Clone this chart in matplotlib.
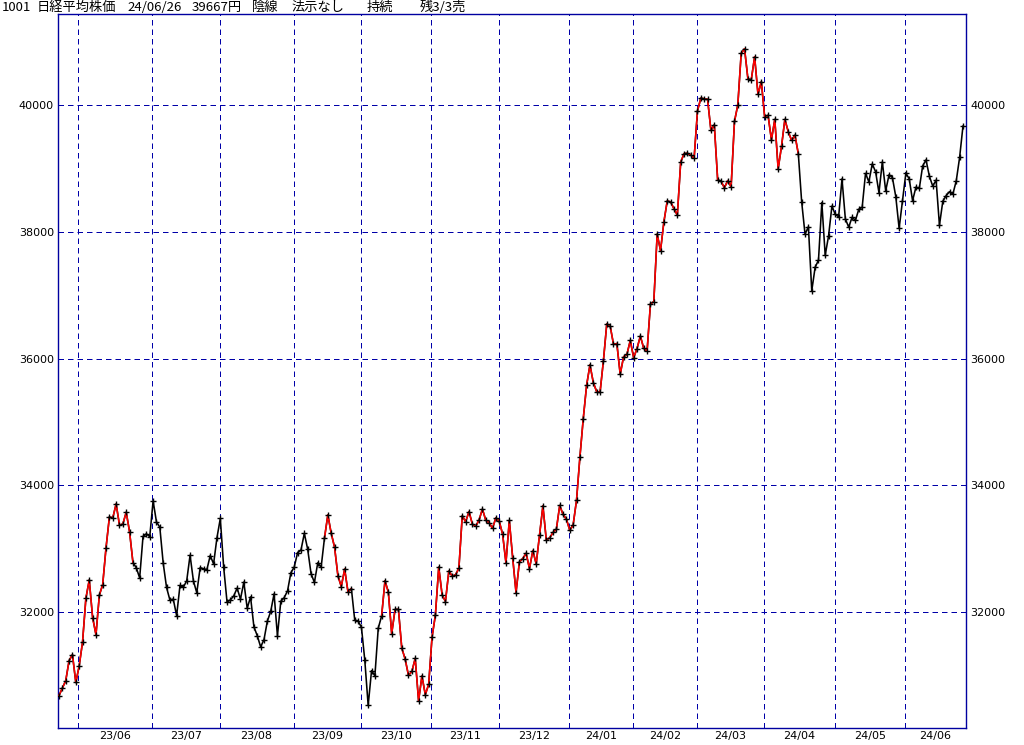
import matplotlib
matplotlib.use("Agg")
import matplotlib.pyplot as plt
from matplotlib import font_manager
import numpy as np

# ---- data (daily closes, trading-day index) ----
may23 = [30682, 30801, 30916, 31233, 31328, 30888]
jun23 = [31148, 31524, 32217, 32506, 31913, 31641, 32265, 32434, 33018, 33502, 33485,
         33706, 33370, 33388, 33575, 33265, 32781, 32698, 32538, 33193, 33234, 33189]
jul23 = [33753, 33422, 33338, 32773, 32388, 32189, 32203, 31943, 32419, 32391, 32493,
         32896, 32490, 32304, 32700, 32682, 32668, 32891, 32759, 33172]
aug23 = [33476, 32707, 32159, 32192, 32254, 32377, 32204, 32473, 32059, 32238, 31766,
         31626, 31450, 31565, 31856, 32010, 32287, 31624, 32169, 32226, 32333, 32619]
sep23 = [32710, 32939, 32976, 33241, 32991, 32606, 32467, 32776, 32706, 33168, 33533,
         33242, 33023, 32571, 32402, 32678, 32315, 32371, 31872, 31857]
oct23 = [31759, 31237, 30526, 31075, 30994, 31746, 31936, 32494, 32315, 31659, 32040,
         32042, 31430, 31259, 30999, 31062, 31269, 30601, 30991, 30696, 30858]
nov23 = [31601, 31950, 32708, 32272, 32166, 32646, 32568, 32585, 32695, 33519, 33424,
         33585, 33388, 33354, 33452, 33625, 33447, 33408, 33321, 33486]
dec23 = [33431, 33231, 32776, 33445, 32858, 32307, 32791, 32843, 32926, 32686, 32970,
         32759, 33219, 33675, 33140, 33169, 33255, 33305, 33681, 33539, 33464]
jan24 = [33288, 33377, 33763, 34441, 35049, 35577, 35901, 35619, 35477, 35466, 35963,
         36546, 36517, 36226, 36236, 35751, 36026, 36065, 36286]
feb24 = [36011, 36158, 36354, 36160, 36119, 36863, 36897, 37963, 37703, 38157, 38487,
         38470, 38363, 38262, 39098, 39233, 39239, 39208, 39166]
mar24 = [39910, 40109, 40097, 40090, 39598, 39688, 38820, 38797, 38695, 38807, 38707,
         39740, 40003, 40815, 40888, 40414, 40398, 40762, 40168, 40369]
apr24 = [39803, 39838, 39451, 39773, 38992, 39347, 39773, 39581, 39442, 39523, 39232,
         38471, 37962, 38079, 37068, 37438, 37552, 38460, 37628, 37934, 38405]
may24 = [38274, 38236, 38835, 38202, 38073, 38229, 38179, 38356, 38385, 38920, 38787,
         39070, 38947, 38617, 39103, 38646, 38900, 38855, 38556, 38054, 38488]
jun24 = [38923, 38837, 38490, 38704, 38683, 39038, 39134, 38877, 38720, 38815, 38102,
         38482, 38570, 38633, 38596, 38804, 39173, 39667]

months = [may23, jun23, jul23, aug23, sep23, oct23, nov23, dec23,
          jan24, feb24, mar24, apr24, may24, jun24]
month_labels = ["23/06", "23/07", "23/08", "23/09", "23/10", "23/11", "23/12",
                "24/01", "24/02", "24/03", "24/04", "24/05", "24/06"]
# index ranges (inclusive) drawn in red
red_spans = [(0, 22), (79, 87), (96, 220)]
y_ticks = [32000, 34000, 36000, 38000, 40000]

closes = np.concatenate([np.array(m, dtype=float) for m in months])
idx = np.arange(len(closes))
starts = np.cumsum([len(m) for m in months])[:-1]  # first index of Jun23..Jun24

# ---- fonts ----
avail = {f.name for f in font_manager.fontManager.ttflist}
tick_font = "Liberation Sans Narrow" if "Liberation Sans Narrow" in avail else "DejaVu Sans"
tick_size = 10 if tick_font == "Liberation Sans Narrow" else 8
jp_font = ["Noto Sans CJK JP", "DejaVu Sans"]

W, H = 1024, 745
fig = plt.figure(figsize=(W / 100, H / 100), dpi=100)
fig.patch.set_facecolor("white")
L, R, T, B = 58, 966, 14, 728
ax = fig.add_axes([L / W, 1 - B / H, (R - L) / W, (B - T) / H])

navy = "#0000A8"
frame = "#0000A0"

ax.plot(idx, closes, color="black", lw=1.15, zorder=3)
for a, b in red_spans:
    ax.plot(idx[a:b + 1], closes[a:b + 1], color="#FF0000", lw=1.15, zorder=4)
ax.plot(idx, closes, ls="none", marker="+", ms=4, mew=1.0, color="black", zorder=5)

ax.set_xlim(-0.3, len(closes) - 1 + 0.9)
ax.set_ylim(30170, 41436)

grid_x = starts - 0.2
for gx in grid_x:
    ax.axvline(gx, color=navy, lw=0.72, ls=(0, (5.5, 4)), zorder=1, snap=True)
for gy in y_ticks:
    ax.axhline(gy, color=navy, lw=0.72, ls=(0, (5.5, 4)), zorder=1, snap=True)

# month labels centred between gridlines
edges = list(grid_x) + [ax.get_xlim()[1]]
label_pos = [(edges[i] + edges[i + 1]) / 2 for i in range(len(month_labels))]
ax.set_xticks(label_pos)
ax.set_xticklabels(month_labels, fontfamily=tick_font, fontsize=tick_size)
ax.tick_params(axis="x", length=0, pad=2)

ax.set_yticks(y_ticks)
ax.set_yticklabels([str(v) for v in y_ticks], fontfamily=tick_font, fontsize=tick_size)
ax.tick_params(axis="y", length=0, pad=3, labelleft=True, labelright=True)

for s in ax.spines.values():
    s.set_color(frame)
    s.set_linewidth(1.0)

# header texts
hy = 1 - 7.5 / H
header = [(2, "1001"), (37, "日経平均株価"), (127, "24/06/26"), (192, "39667円"),
          (252, "陰線"), (292, "法示なし"), (367, "持続"), (420, "残3/3売")]
for px, txt in header:
    fig.text(px / W, hy, txt, fontsize=9.5, family=jp_font, va="center", ha="left",
             color="black")

fig.savefig("out.png", dpi=100, facecolor="white")
